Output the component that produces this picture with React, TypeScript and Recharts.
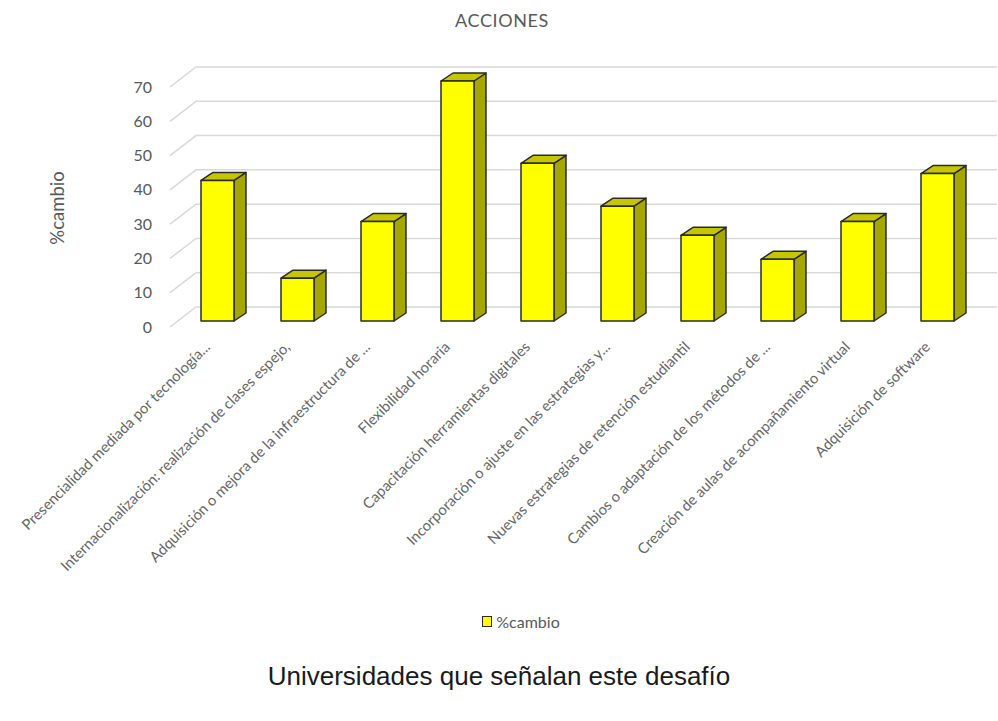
import { BarChart, Bar, XAxis, YAxis, CartesianGrid, Legend } from "recharts"

const categories = [
  "Presencialidad mediada por tecnología...",
  "Internacionalización: realización de clases espejo,",
  "Adquisición o mejora de la infraestructura de ...",
  "Flexibilidad horaria",
  "Capacitación herramientas digitales",
  "Incorporación o ajuste en las estrategias y...",
  "Nuevas estrategias de retención estudiantil",
  "Cambios o adaptación de los métodos de ...",
  "Creación de aulas de acompañamiento virtual",
  "Adquisición de software",
]
const cambio = [41, 12.5, 29, 70, 46, 33.5, 25, 18, 29, 43]
const yTicks = [0, 10, 20, 30, 40, 50, 60, 70]

const data = categories.map((name, i) => ({ name, cambio: cambio[i] }))

const FONT = "Lato, 'Open Sans', sans-serif"
const GRAY = "#595959"

// depth of the fake 3d bars
const DX = 12
const DY = 8

function Bar3D(props: any) {
  const { x, y, width, height } = props
  if (height <= 0) return null
  const side = `${x + width},${y} ${x + width + DX},${y - DY} ${x + width + DX},${y + height - DY} ${x + width},${y + height}`
  const top = `${x},${y} ${x + DX},${y - DY} ${x + width + DX},${y - DY} ${x + width},${y}`
  return (
    <g stroke="#2b2b2b" strokeWidth={1.5} strokeLinejoin="round">
      <polygon points={side} fill="#a6a600" />
      <polygon points={top} fill="#c6c600" />
      <rect x={x} y={y} width={width} height={height} fill="#ffff00" />
    </g>
  )
}

function GridLine(props: any) {
  const { x1, x2, y1 } = props
  return (
    <path
      key={`g-${y1}`}
      d={`M${x1 - 7},${y1 + 6} L${x1 + 19},${y1 - 14} L${x2 + 20},${y1 - 14}`}
      fill="none"
      stroke="#d9d9d9"
      strokeWidth={1.5}
    />
  )
}

function XTick(props: any) {
  const { x, y, payload } = props
  return (
    <text
      x={x - 6}
      y={y}
      transform={`rotate(-45, ${x - 6}, ${y})`}
      textAnchor="end"
      fontSize={14.8}
      fontFamily={FONT}
      fill="#666"
    >
      {payload.value}
    </text>
  )
}

function YTick(props: any) {
  const { x, y, payload } = props
  return (
    <text x={x} y={y + 6} dy="0.35em" textAnchor="end" fontSize={16} fontFamily={FONT} fill={GRAY}>
      {payload.value}
    </text>
  )
}

function LegendContent() {
  return (
    <div
      style={{
        display: "flex",
        justifyContent: "center",
        alignItems: "center",
        fontFamily: FONT,
        fontSize: 16,
        color: GRAY,
        paddingLeft: 44,
      }}
    >
      <span
        style={{
          display: "inline-block",
          width: 8,
          height: 9,
          background: "#ffff00",
          border: "1.5px solid #2b2b2b",
          marginRight: 4,
        }}
      />
      %cambio
    </div>
  )
}

export default function App() {
  return (
    <div style={{ position: "absolute", left: 0, top: 0, width: 998, height: 721, background: "#fff" }}>
      <div
        style={{
          position: "absolute",
          top: 9,
          width: 998,
          textAlign: "center",
          fontFamily: FONT,
          fontSize: 18,
          color: GRAY,
          letterSpacing: 0.6,
          paddingLeft: 6,
          boxSizing: "border-box",
        }}
      >
        ACCIONES
      </div>
      <BarChart
        width={998}
        height={721}
        data={data}
        margin={{ top: 81, right: 21, left: 137, bottom: 250 }}
      >
        <CartesianGrid vertical={false} horizontal={GridLine} />
        <XAxis
          dataKey="name"
          interval={0}
          height={150}
          axisLine={false}
          tickLine={false}
          tickSize={0}
          tickMargin={27}
          tick={XTick}
        />
        <YAxis
          domain={[0, 70]}
          ticks={yTicks}
          width={40}
          axisLine={false}
          tickLine={false}
          tickSize={0}
          tickMargin={25}
          tick={YTick}
          label={{
            value: "%cambio",
            angle: -90,
            position: "left",
            offset: 80,
            dy: 7,
            style: { fontFamily: FONT, fontSize: 18.5, fill: GRAY, textAnchor: "middle" },
          }}
        />
        <Legend
          layout="horizontal"
          verticalAlign="middle"
          align="center"
          content={LegendContent}
          wrapperStyle={{ top: 612, left: 0, width: 998 }}
        />
        <Bar dataKey="cambio" barSize={33} shape={Bar3D} isAnimationActive={false} />
      </BarChart>
      <div
        style={{
          position: "absolute",
          top: 661,
          width: 998,
          textAlign: "center",
          fontFamily: "'Liberation Sans', Arial, sans-serif",
          fontSize: 26,
          color: "#1a1a1a",
        }}
      >
        Universidades que señalan este desafío
      </div>
    </div>
  )
}
